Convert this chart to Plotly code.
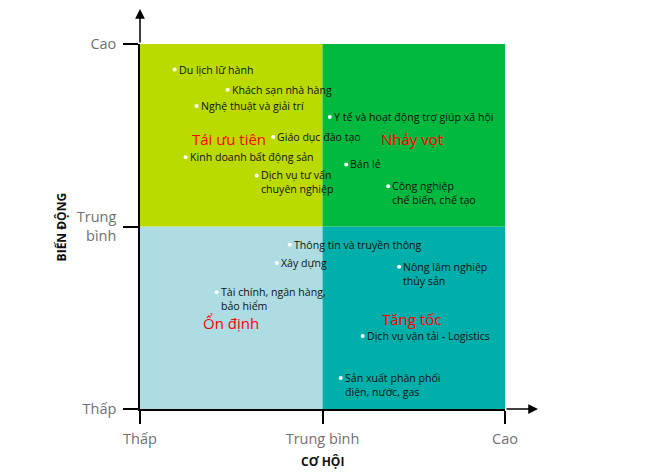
import plotly.graph_objects as go

# ---- data ----
levels = ["Thấp", "Trung bình", "Cao"]
level_vals = [0, 1, 2]

sectors = [
    "Du lịch lữ hành",
    "Khách sạn nhà hàng",
    "Nghệ thuật và giải trí",
    "Giáo dục đào tạo",
    "Kinh doanh bất động sản",
    "Dịch vụ tư vấn<br>chuyên nghiệp",
    "Y tế và hoạt động trợ giúp xã hội",
    "Bán lẻ",
    "Công nghiệp<br>chế biến, chế tạo",
    "Thông tin và truyền thông",
    "Xây dựng",
    "Nông lâm nghiệp<br>thủy sản",
    "Tài chính, ngân hàng,<br>bảo hiểm",
    "Dịch vụ vận tải - Logistics",
    "Sản xuất phân phối<br>điện, nước, gas",
]
opportunity = [0.19, 0.48, 0.31, 0.73, 0.25, 0.64, 1.04, 1.13, 1.36, 0.82, 0.75, 1.42, 0.42, 1.22, 1.10]
volatility = [1.86, 1.75, 1.66, 1.49, 1.38, 1.28, 1.60, 1.34, 1.22, 0.90, 0.80, 0.78, 0.64, 0.40, 0.17]

quadrant_names = ["Ổn định", "Tăng tốc", "Tái ưu tiên", "Nhảy vọt"]
quadrant_x0 = [0, 1, 0, 1]
quadrant_y0 = [0, 0, 1, 1]
quadrant_label_x = [0.50, 1.49, 0.49, 1.49]
quadrant_label_y = [0.47, 0.495, 1.48, 1.48]
quadrant_colors = ["#ADDDE2", "#00AFA9", "#BBDB00", "#00B93E"]

fig = go.Figure()

fig.add_trace(go.Scatter(
    x=opportunity, y=volatility, mode="markers",
    marker=dict(color="white", size=4),
    hoverinfo="skip", showlegend=False, cliponaxis=False,
))

shapes = []
for x0, y0, c in zip(quadrant_x0, quadrant_y0, quadrant_colors):
    shapes.append(dict(type="rect", xref="x", yref="y", x0=x0, x1=x0 + 1, y0=y0, y1=y0 + 1,
                       fillcolor=c, line=dict(width=0), layer="below"))

annotations = []
for name, x, y in zip(sectors, opportunity, volatility):
    annotations.append(dict(x=x, y=y, xref="x", yref="y", text=name, showarrow=False,
                            xanchor="left", yanchor="top", align="left", xshift=2, yshift=9,
                            font=dict(family="Open Sans", size=10.6, color="#111111")))
for name, x, y in zip(quadrant_names, quadrant_label_x, quadrant_label_y):
    annotations.append(dict(x=x, y=y, xref="x", yref="y", text=name, showarrow=False,
                            font=dict(family="Open Sans", size=15, color="#FF0000")))

# axis arrows
annotations.append(dict(xref="paper", yref="paper", x=0, y=1.1014, ax=0, ay=37, text="",
                        showarrow=True, arrowhead=2, arrowsize=1.3, arrowwidth=1.5,
                        arrowcolor="black", standoff=0, startstandoff=0))
annotations.append(dict(xref="paper", yref="paper", x=1.0904, y=0, ax=-33, ay=0, text="",
                        showarrow=True, arrowhead=2, arrowsize=1.3, arrowwidth=1.5,
                        arrowcolor="black", standoff=0, startstandoff=0))
# axis titles
annotations.append(dict(xref="paper", yref="paper", x=0.5, y=-0.145, text="<b>CƠ HỘI</b>",
                        showarrow=False, yanchor="middle",
                        font=dict(family="Open Sans", size=12, color="#111111")))
annotations.append(dict(xref="paper", yref="paper", x=-0.214, y=0.5, text="<b>BIẾN ĐỘNG</b>",
                        showarrow=False, textangle=-90, xanchor="center",
                        font=dict(family="Open Sans", size=12, color="#111111")))

axis_common = dict(range=[0, 2], showgrid=False, zeroline=False, showline=True,
                   linecolor="black", linewidth=1.5, ticks="outside", tickwidth=1.5,
                   tickcolor="black", tickvals=level_vals, fixedrange=True,
                   tickfont=dict(family="Open Sans", size=14.5, color="#707070"))

# page body has an 8px margin, so the figure is 8px smaller and offset
fig.update_layout(
    width=642, height=467,
    margin=dict(l=132, r=145, t=36, b=66),
    paper_bgcolor="white", plot_bgcolor="white",
    shapes=shapes, annotations=annotations,
    xaxis=dict(**axis_common, ticktext=levels, ticklen=13, ticklabelstandoff=3),
    yaxis=dict(**axis_common, ticktext=["Thấp", "Trung<br>bình", "Cao"], ticklen=15,
               ticklabelstandoff=4),
)

fig.write_html("out.html")
